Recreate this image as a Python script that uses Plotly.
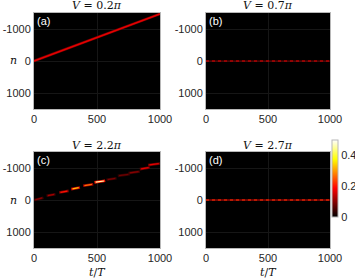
import plotly.graph_objects as go
from plotly.colors import sample_colorscale

# ---------------- data ----------------
titles = ["<i>V</i> = 0.2<i>π</i>", "<i>V</i> = 0.7<i>π</i>", "<i>V</i> = 2.2<i>π</i>", "<i>V</i> = 2.7<i>π</i>"]
labels = ["(a)", "(b)", "(c)", "(d)"]

# (a) ballistic drift
a_t = [0, 250, 500, 750, 1000]
a_n = [0, -370, -740, -1105, -1470]
a_amp = 0.17

# (b) localized at n = 0
b_t = [0, 1000]
b_n = [0, 0]
b_amp = 0.12

# (c) stepwise transport: segments (t start, t end, n start, n end, peak)
c_t0 = [0, 100, 200, 295, 390, 480, 575, 665, 750, 840, 905]
c_t1 = [75, 170, 275, 365, 470, 565, 655, 760, 840, 920, 1000]
c_n0 = [0, -130, -235, -340, -445, -550, -630, -755, -840, -965, -1090]
c_n1 = [-70, -180, -285, -390, -495, -600, -680, -805, -890, -1015, -1140]
c_amp = [0.10, 0.12, 0.20, 0.33, 0.27, 0.46, 0.09, 0.08, 0.10, 0.17, 0.17]

# (d) localized at n = 0
d_t = [0, 1000]
d_n = [0, 0]
d_amp = 0.15

zmax = 0.5
cb_ticks = [0, 0.2, 0.4]
cb_labels = ["0", "0.2", "0.4"]
x_ticks = [0, 500, 1000]
y_ticks = [-1000, 0, 1000]
y_labels = ["-1000", "0", "1000"]

# ---------------- figure ----------------
hot = [[0, "rgb(0,0,0)"], [0.375, "rgb(255,0,0)"], [0.75, "rgb(255,255,0)"], [1, "rgb(255,255,255)"]]

def col(v):
    return sample_colorscale(hot, [min(v / zmax, 1)])[0]

W, H = 355, 279
boxes = [(34, 160, 13, 109), (206, 330, 13, 109), (34, 160, 152, 248), (206, 330, 152, 248)]

fig = go.Figure()
tickfont = dict(family="Liberation Sans, Arial", size=11, color="#262626")

for i, (x0, x1, y0, y1) in enumerate(boxes):
    k = "" if i == 0 else str(i + 1)
    fig.update_layout(**{
        "xaxis" + k: dict(domain=[x0 / W, x1 / W], range=[0, 1000], tickvals=x_ticks,
                          showgrid=True, gridcolor="#161616", zeroline=False,
                          showline=True, linecolor="#b8b8b8", mirror=True, linewidth=1,
                          tickfont=tickfont, anchor="y" + k, ticks="", ticklen=4,
                          automargin=False),
        "yaxis" + k: dict(domain=[1 - y1 / H, 1 - y0 / H], range=[1500, -1500],
                          tickvals=y_ticks, ticktext=y_labels,
                          showgrid=True, gridcolor="#161616", zeroline=False,
                          showline=True, linecolor="#b8b8b8", mirror=True, linewidth=1,
                          tickfont=tickfont, anchor="x" + k, ticks="", ticklen=4,
                          automargin=False),
    })
    fig.add_annotation(x=(x0 + x1) / 2 / W, y=1 - (y0 - 7) / H, xref="paper", yref="paper",
                       text=titles[i], showarrow=False, xanchor="center", yanchor="middle",
                       font=dict(family="DejaVu Serif", size=11, color="#111"))
    fig.add_annotation(x=(x0 + 1) / W, y=1 - (y0 + 0) / H, xref="paper", yref="paper",
                       text=labels[i], showarrow=False, xanchor="left", yanchor="top",
                       font=dict(family="Liberation Sans, Arial", size=11, color="white"))

def add_line(t, n, amp, ax, width=2.0, dash=None):
    k = "" if ax == 1 else str(ax)
    fig.add_trace(go.Scatter(x=t, y=n, mode="lines", xaxis="x" + k, yaxis="y" + k,
                             line=dict(color=col(amp), width=width, dash=dash),
                             showlegend=False, hoverinfo="skip"))

# (a)
add_line(a_t, a_n, a_amp * 0.5, 1, width=2.6)
add_line(a_t, a_n, a_amp, 1, width=1.4)
# (b)
add_line(b_t, b_n, b_amp * 0.7, 2, width=1.0)
add_line(b_t, b_n, b_amp * 1.4, 2, width=1.0, dash="dot")
# (c)
for t0, t1, n0, n1, a in zip(c_t0, c_t1, c_n0, c_n1, c_amp):
    add_line([t0, t1], [n0, n1], a * 0.45, 3, width=2.6)
    add_line([t0 + 10, t1 - 10], [n0 - 6, n1 + 6], a, 3, width=1.2)
# (d)
add_line(d_t, d_n, d_amp * 0.7, 4, width=1.4)
add_line(d_t, d_n, d_amp * 1.5, 4, width=1.0, dash="dot")

# colorbar
fig.add_trace(go.Scatter(x=[None], y=[None], mode="markers", xaxis="x4", yaxis="y4",
                         marker=dict(color=[0], colorscale=hot, cmin=0, cmax=zmax, showscale=True,
                                     colorbar=dict(x=332 / W, xanchor="left", y=1 - 178.5 / H,
                                                   yanchor="middle", len=77 / H, lenmode="fraction",
                                                   thickness=6, thicknessmode="pixels",
                                                   tickvals=cb_ticks, ticktext=cb_labels,
                                                   ticks="", outlinecolor="#b8b8b8", outlinewidth=1,
                                                   tickfont=tickfont, xpad=0, ypad=0)),
                         showlegend=False, hoverinfo="skip"))

# axis labels
for yc in [61, 200]:
    fig.add_annotation(x=13 / W, y=1 - yc / H, xref="paper", yref="paper", text="<i>n</i>",
                       showarrow=False, xanchor="center", yanchor="middle",
                       font=dict(family="DejaVu Serif", size=11, color="#111"))
for xc in [97, 268]:
    fig.add_annotation(x=xc / W, y=1 - 272 / H, xref="paper", yref="paper", text="<i>t</i>/<i>T</i>",
                       showarrow=False, xanchor="center", yanchor="middle",
                       font=dict(family="DejaVu Serif", size=11, color="#111"))

fig.update_layout(width=W, height=H, margin=dict(l=0, r=0, t=0, b=0, autoexpand=False),
                  paper_bgcolor="white", plot_bgcolor="black")
fig.write_html("out.html", config={"displayModeBar": False},
               post_script="document.body.style.margin='0';document.body.style.padding='0';"
                           "document.body.style.overflow='hidden';")
